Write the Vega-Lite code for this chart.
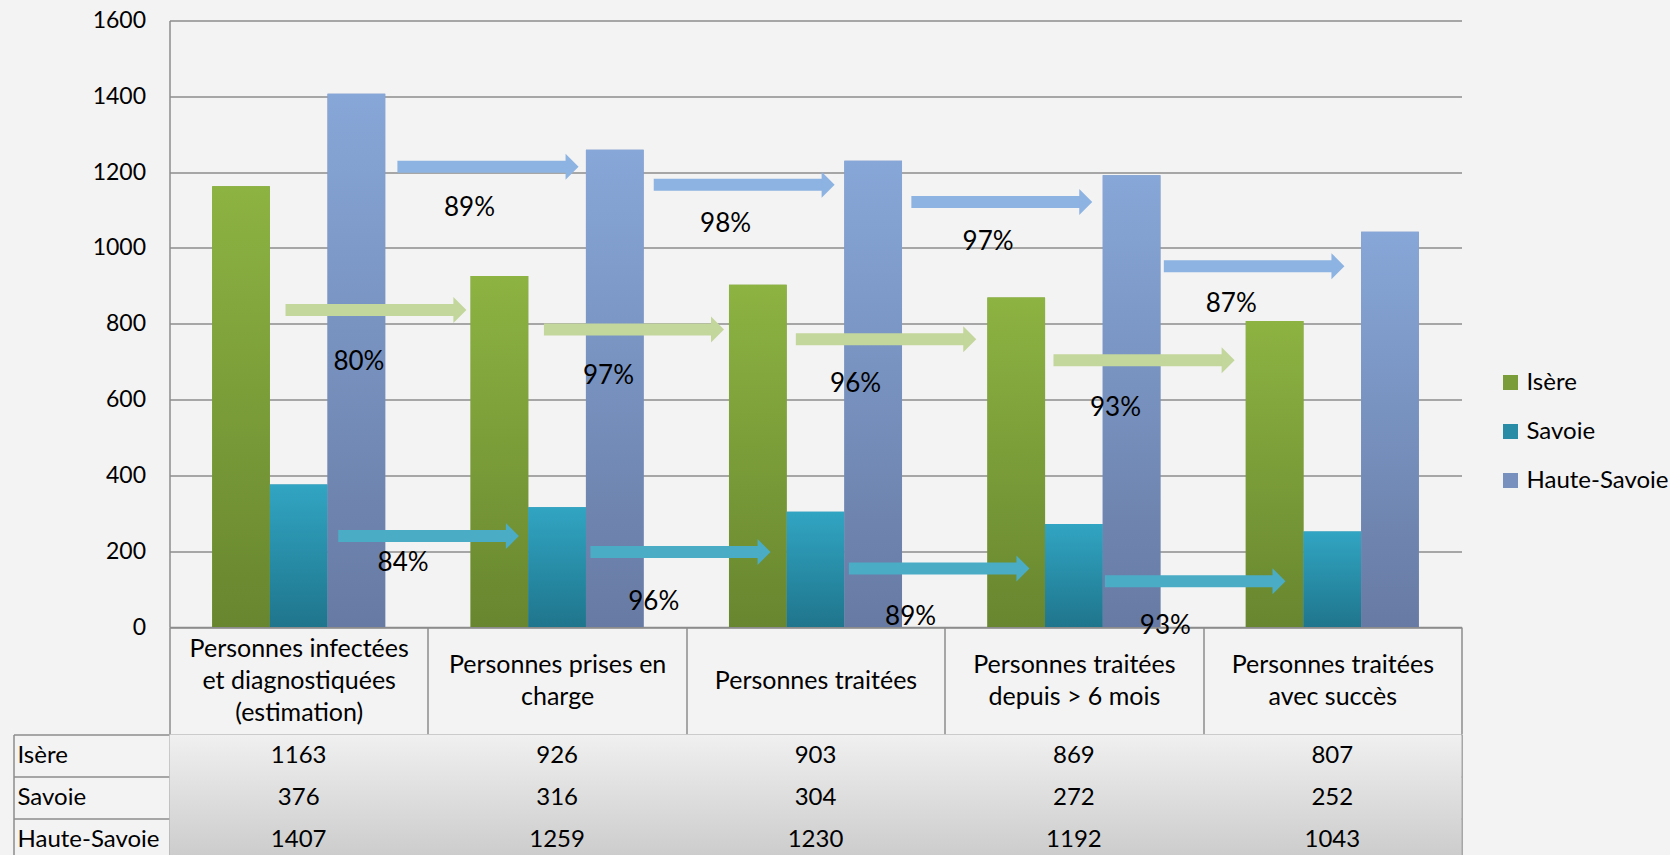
{
  "$schema": "https://vega.github.io/schema/vega-lite/v6.json",
  "autosize": {"type": "pad"},
  "padding": {"left": 12.5, "top": 9.5, "right": 0, "bottom": 0},
  "background": "#f3f3f3",
  "config": {
    "font": "Lato",
    "view": {"stroke": null},
    "axis": {"labelFont": "Lato", "labelColor": "#000000"},
    "legend": {"labelFont": "Lato"}
  },
  "datasets": {
    "main": [
      {"category": "Personnes infectées et diagnostiquées (estimation)", "series": "Isère", "value": 1163},
      {"category": "Personnes infectées et diagnostiquées (estimation)", "series": "Savoie", "value": 376},
      {"category": "Personnes infectées et diagnostiquées (estimation)", "series": "Haute-Savoie", "value": 1407},
      {"category": "Personnes prises en charge", "series": "Isère", "value": 926},
      {"category": "Personnes prises en charge", "series": "Savoie", "value": 316},
      {"category": "Personnes prises en charge", "series": "Haute-Savoie", "value": 1259},
      {"category": "Personnes traitées", "series": "Isère", "value": 903},
      {"category": "Personnes traitées", "series": "Savoie", "value": 304},
      {"category": "Personnes traitées", "series": "Haute-Savoie", "value": 1230},
      {"category": "Personnes traitées depuis > 6 mois", "series": "Isère", "value": 869},
      {"category": "Personnes traitées depuis > 6 mois", "series": "Savoie", "value": 272},
      {"category": "Personnes traitées depuis > 6 mois", "series": "Haute-Savoie", "value": 1192},
      {"category": "Personnes traitées avec succès", "series": "Isère", "value": 807},
      {"category": "Personnes traitées avec succès", "series": "Savoie", "value": 252},
      {"category": "Personnes traitées avec succès", "series": "Haute-Savoie", "value": 1043}
    ],
    "arrows": [
      {"series": "Haute-Savoie", "from": 0.882, "to": 1.583, "y": 1214, "rate": "89%", "lx": 1.161, "ly": 1106},
      {"series": "Haute-Savoie", "from": 1.874, "to": 2.574, "y": 1167, "rate": "98%", "lx": 2.152, "ly": 1062},
      {"series": "Haute-Savoie", "from": 2.871, "to": 3.571, "y": 1121, "rate": "97%", "lx": 3.168, "ly": 1016},
      {"series": "Haute-Savoie", "from": 3.848, "to": 4.547, "y": 952, "rate": "87%", "lx": 4.109, "ly": 851},
      {"series": "Isère", "from": 0.449, "to": 1.149, "y": 836, "rate": "80%", "lx": 0.733, "ly": 699},
      {"series": "Isère", "from": 1.449, "to": 2.146, "y": 785, "rate": "97%", "lx": 1.699, "ly": 662},
      {"series": "Isère", "from": 2.424, "to": 3.122, "y": 759, "rate": "96%", "lx": 2.655, "ly": 642},
      {"series": "Isère", "from": 3.421, "to": 4.122, "y": 704, "rate": "93%", "lx": 3.661, "ly": 578},
      {"series": "Savoie", "from": 0.653, "to": 1.352, "y": 240, "rate": "84%", "lx": 0.904, "ly": 170},
      {"series": "Savoie", "from": 1.629, "to": 2.326, "y": 198, "rate": "96%", "lx": 1.874, "ly": 66},
      {"series": "Savoie", "from": 2.629, "to": 3.328, "y": 154, "rate": "89%", "lx": 2.868, "ly": 26},
      {"series": "Savoie", "from": 3.620, "to": 4.319, "y": 121, "rate": "93%", "lx": 3.854, "ly": 2}
    ]
  },
  "bounds": "flush",
  "spacing": 107,
  "vconcat": [
    {
      "width": 1292,
      "height": 606.5,
      "layer": [
        {
          "data": {"name": "main"},
          "mark": {"type": "bar"},
          "encoding": {
            "x": {
              "field": "category", "type": "nominal",
              "sort": ["Personnes infectées et diagnostiquées (estimation)", "Personnes prises en charge", "Personnes traitées", "Personnes traitées depuis > 6 mois", "Personnes traitées avec succès"],
              "scale": {"paddingInner": 0, "paddingOuter": 0},
              "axis": {
                "orient": "bottom", "title": null, "labelAngle": 0,
                "domain": true, "domainColor": "#8c8c8c", "domainWidth": 1.5,
                "ticks": true, "tickBand": "extent", "tickSize": 107, "tickColor": "#8c8c8c", "tickWidth": 1.5,
                "labelPadding": {
                  "condition": [
                    {"test": "datum.value == 'Personnes infectées et diagnostiquées (estimation)'", "value": -85.5},
                    {"test": "datum.value == 'Personnes traitées'", "value": -53.5}
                  ],
                  "value": -69.5
                },
                "labelBaseline": "middle", "labelFontSize": 25, "labelLineHeight": 32,
                "labelLimit": 400, "labelOverlap": false,
                "labelExpr": "datum.value == 'Personnes infectées et diagnostiquées (estimation)' ? ['Personnes infectées', 'et diagnostiquées', '(estimation)'] : datum.value == 'Personnes prises en charge' ? ['Personnes prises en', 'charge'] : datum.value == 'Personnes traitées depuis > 6 mois' ? ['Personnes traitées', 'depuis > 6 mois'] : datum.value == 'Personnes traitées avec succès' ? ['Personnes traitées', 'avec succès'] : datum.label"
              }
            },
            "xOffset": {
              "field": "series", "type": "nominal",
              "scale": {"domain": ["Isère", "Savoie", "Haute-Savoie"], "paddingInner": 0, "paddingOuter": 0.74}
            },
            "y": {
              "field": "value", "type": "quantitative",
              "scale": {"domain": [0, 1600], "nice": false},
              "axis": {
                "title": null, "values": [0, 200, 400, 600, 800, 1000, 1200, 1400, 1600], "format": "d",
                "grid": true, "gridColor": "#8c8c8c", "gridWidth": 1.5,
                "domain": true, "domainColor": "#8c8c8c", "domainWidth": 1.5,
                "ticks": false, "labelPadding": 24, "labelFontSize": 23
              }
            },
            "color": {
              "field": "series", "type": "nominal",
              "scale": {"domain": ["Isère", "Savoie", "Haute-Savoie"], "range": ["#7b9d39", "#288ca6", "#7790bd"]},
              "legend": {
                "title": null, "orient": "none", "legendX": 1329, "legendY": 350,
                "padding": 0, "symbolType": "square", "symbolSize": 225, "symbolStrokeWidth": 0, "symbolOpacity": 1,
                "labelFontSize": 24, "labelColor": "#000000", "labelOffset": 4, "rowPadding": 25
              }
            }
          }
        },
        {
          "data": {"name": "main"},
          "transform": [{"filter": "datum.series == 'Isère'"}],
          "mark": {"type": "bar", "fill": {"gradient": "linear", "x1": 0, "y1": 0, "x2": 0, "y2": 1, "stops": [{"offset": 0, "color": "#8db342"}, {"offset": 1, "color": "#68862f"}]}},
          "encoding": {
            "x": {"field": "category", "type": "nominal", "sort": ["Personnes infectées et diagnostiquées (estimation)", "Personnes prises en charge", "Personnes traitées", "Personnes traitées depuis > 6 mois", "Personnes traitées avec succès"], "scale": {"paddingInner": 0, "paddingOuter": 0}, "axis": null},
            "xOffset": {"field": "series", "type": "nominal", "scale": {"domain": ["Isère", "Savoie", "Haute-Savoie"], "paddingInner": 0, "paddingOuter": 0.74}},
            "y": {"field": "value", "type": "quantitative"}
          }
        },
        {
          "data": {"name": "main"},
          "transform": [{"filter": "datum.series == 'Savoie'"}],
          "mark": {"type": "bar", "fill": {"gradient": "linear", "x1": 0, "y1": 0, "x2": 0, "y2": 1, "stops": [{"offset": 0, "color": "#31a5c3"}, {"offset": 1, "color": "#1f758c"}]}},
          "encoding": {
            "x": {"field": "category", "type": "nominal", "sort": ["Personnes infectées et diagnostiquées (estimation)", "Personnes prises en charge", "Personnes traitées", "Personnes traitées depuis > 6 mois", "Personnes traitées avec succès"], "scale": {"paddingInner": 0, "paddingOuter": 0}, "axis": null},
            "xOffset": {"field": "series", "type": "nominal", "scale": {"domain": ["Isère", "Savoie", "Haute-Savoie"], "paddingInner": 0, "paddingOuter": 0.74}},
            "y": {"field": "value", "type": "quantitative"}
          }
        },
        {
          "data": {"name": "main"},
          "transform": [{"filter": "datum.series == 'Haute-Savoie'"}],
          "mark": {"type": "bar", "fill": {"gradient": "linear", "x1": 0, "y1": 0, "x2": 0, "y2": 1, "stops": [{"offset": 0, "color": "#87a7d8"}, {"offset": 1, "color": "#677aa3"}]}},
          "encoding": {
            "x": {"field": "category", "type": "nominal", "sort": ["Personnes infectées et diagnostiquées (estimation)", "Personnes prises en charge", "Personnes traitées", "Personnes traitées depuis > 6 mois", "Personnes traitées avec succès"], "scale": {"paddingInner": 0, "paddingOuter": 0}, "axis": null},
            "xOffset": {"field": "series", "type": "nominal", "scale": {"domain": ["Isère", "Savoie", "Haute-Savoie"], "paddingInner": 0, "paddingOuter": 0.74}},
            "y": {"field": "value", "type": "quantitative"}
          }
        },
        {
          "data": {"name": "arrows"},
          "mark": {"type": "rule", "strokeWidth": 12, "x2Offset": -12, "strokeCap": "butt"},
          "encoding": {
            "x": {"field": "from", "type": "quantitative", "scale": {"domain": [0, 5], "nice": false, "zero": false}, "axis": null},
            "x2": {"field": "to"},
            "y": {"field": "y", "type": "quantitative"},
            "color": {"field": "series", "type": "nominal", "scale": {"domain": ["Isère", "Savoie", "Haute-Savoie"], "range": ["#c3d69b", "#4bacc6", "#8db3e2"]}, "legend": null}
          }
        },
        {
          "data": {"name": "arrows"},
          "mark": {"type": "point", "shape": "M-1,-1L0,0L-1,1Z", "size": 676, "filled": true, "opacity": 1, "strokeWidth": 0},
          "encoding": {
            "x": {"field": "to", "type": "quantitative", "scale": {"domain": [0, 5], "nice": false, "zero": false}, "axis": null},
            "y": {"field": "y", "type": "quantitative"},
            "color": {"field": "series", "type": "nominal", "scale": {"domain": ["Isère", "Savoie", "Haute-Savoie"], "range": ["#c3d69b", "#4bacc6", "#8db3e2"]}, "legend": null}
          }
        },
        {
          "data": {"name": "arrows"},
          "mark": {"type": "text", "fontSize": 26, "color": "#000000", "align": "center", "baseline": "middle", "font": "Lato"},
          "encoding": {
            "x": {"field": "lx", "type": "quantitative", "scale": {"domain": [0, 5], "nice": false, "zero": false}, "axis": null},
            "y": {"field": "ly", "type": "quantitative"},
            "text": {"field": "rate"}
          }
        }
      ],
      "resolve": {"scale": {"x": "independent", "color": "independent"}}
    },
    {
      "width": 1292,
      "height": 126,
      "layer": [
        {
          "data": {"values": [{}]},
          "mark": {"type": "rect", "fill": {"gradient": "linear", "x1": 0, "y1": 0, "x2": 0, "y2": 1, "stops": [{"offset": 0, "color": "#f0f0f0"}, {"offset": 1, "color": "#cbcbcb"}]}},
          "encoding": {}
        },
        {
          "data": {"name": "main"},
          "mark": {"type": "text", "fontSize": 24, "color": "#000000", "font": "Lato", "baseline": "middle"},
          "encoding": {
            "x": {
              "field": "category", "type": "nominal",
              "sort": ["Personnes infectées et diagnostiquées (estimation)", "Personnes prises en charge", "Personnes traitées", "Personnes traitées depuis > 6 mois", "Personnes traitées avec succès"],
              "scale": {"paddingInner": 0, "paddingOuter": 0},
              "axis": {"title": null, "labels": false, "ticks": false, "domain": false, "grid": true, "tickBand": "extent", "gridColor": "#8c8c8c", "gridWidth": 1.5}
            },
            "y": {
              "field": "series", "type": "nominal",
              "sort": ["Isère", "Savoie", "Haute-Savoie"],
              "scale": {"paddingInner": 0, "paddingOuter": 0},
              "axis": {
                "title": null, "orient": "left", "offset": 156,
                "domain": true, "domainColor": "#8c8c8c", "domainWidth": 1.5,
                "ticks": true, "tickBand": "extent", "tickSize": -156, "tickColor": "#8c8c8c", "tickWidth": 1.5,
                "grid": true, "gridColor": "#8c8c8c", "gridWidth": 1.5,
                "labelAlign": "left", "labelBaseline": "middle", "labelPadding": 152.5, "labelFontSize": 24
              }
            },
            "text": {"field": "value", "type": "quantitative"}
          }
        }
      ]
    }
  ]
}
